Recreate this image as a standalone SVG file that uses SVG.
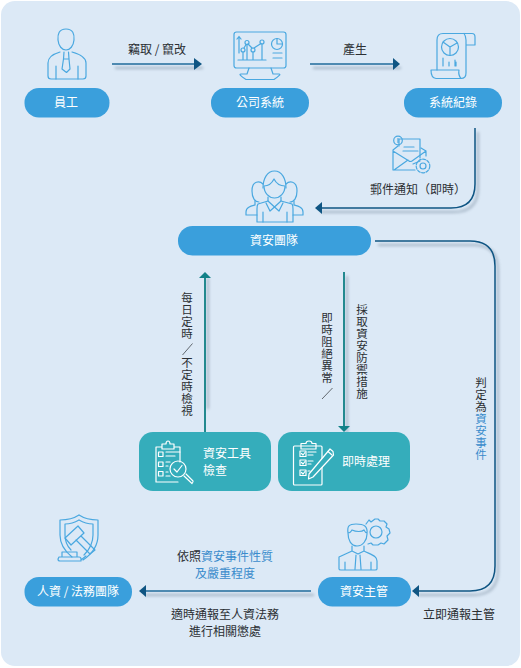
<svg xmlns="http://www.w3.org/2000/svg" width="521" height="668" viewBox="0 0 521 668">
<style>
text{font-family:"Noto Sans CJK TC","Noto Sans CJK SC",sans-serif;font-size:12px;fill:#2b2f33}
.w{fill:#fff;text-anchor:middle}
.t{fill:#fff}
.c{text-anchor:middle}
.v{writing-mode:vertical-rl;font-size:11.5px;letter-spacing:.5px}
.b{fill:#3a8ccc}
.pill{fill:#3a9fdc}
.teal{fill:#35adbb}
.ic{fill:none;stroke:#4aa8e0;stroke-width:1.2;stroke-linecap:round;stroke-linejoin:round}
.iw{fill:none;stroke:#fff;stroke-width:1.2;stroke-linecap:round;stroke-linejoin:round}
.ln{fill:none;stroke:#1f6a9a;stroke-width:1.6}
.nv{fill:none;stroke:#0f5583;stroke-width:1.5}
.tl{fill:none;stroke:#22898f;stroke-width:2}
.sh{fill:none;stroke:#4a5f75;stroke-width:2;opacity:.4;filter:url(#bl)}
</style>
<defs>
<filter id="bl" x="0" y="0" width="521" height="668" filterUnits="userSpaceOnUse"><feGaussianBlur stdDeviation="1.6"/></filter>
</defs>
<rect x="0" y="0" width="521" height="668" fill="#fff"/>
<rect x="1" y="1" width="519" height="665" rx="14" fill="#dce9f6"/>

<g id="connectors">
<g transform="translate(3,4)">
<path class="sh" d="M112 64H200"/><path class="sh" d="M310 64H398"/>
<path class="sh" d="M475 128V184Q475 208 451 208H318"/>
<path class="sh" d="M375 241H470Q495 241 495 266V566Q495 591 470 591H415"/>
<path class="sh" d="M205 405V274"/><path class="sh" d="M344 272V430"/>
<path class="sh" d="M311 591H142"/>
</g>
<path class="ln" d="M112 64H196"/><path d="M194 58L202 64L194 70Z" fill="#0f5583"/>
<path class="ln" d="M310 64H394"/><path d="M393 58L400 64L393 70Z" fill="#0f5583"/>
<path class="nv" d="M475 128V184Q475 208 451 208H320"/><path d="M315 208L322 202V214Z" fill="#0f5583"/>
<path class="nv" d="M375 241H470Q495 241 495 266V566Q495 591 470 591H418"/><path d="M412 591L419 585V597Z" fill="#0f5583"/>
<path class="tl" d="M205 432V276"/><path d="M199 278L205 272L211 278Z" fill="#128188"/>
<path class="tl" d="M344 272V428"/><path d="M338 426H350L344 432Z" fill="#128188"/>
<path class="ln" d="M311 591H146"/><path d="M139 591L146 585V597Z" fill="#0f5583"/>
</g>

<g id="employee">
<g class="ic">
<path d="M66 29C59 29 57.500 34 58 40C58.500 46 62 50 66 50C70 50 73.500 46 74 40C74.500 34 73 29 66 29Z"/>
<path d="M60 52C53 54 48 57 48 63V76Q48 79 51 79H83Q86 79 86 76V63C86 57 79 54 72 52"/>
<path d="M64 52L63.500 59L62 69L66.500 72.500L70 69L69 59L68.500 52M63.500 59H69"/>
<path d="M56 66V79M78 66V79"/>
</g>
<rect class="pill" x="24.500" y="88" width="85" height="29.500" rx="14.500"/>
<text class="w" x="66" y="107">員工</text>
</g>

<g id="system">
<g class="ic">
<rect x="234" y="32" width="52" height="36" rx="2.500"/>
<path d="M249 68L247 74H241Q237.500 74 246 79.500H274Q282 74 279 74H273L271 68"/>
<path d="M239 53V37M237 39L239 36.500L241 39"/>
<circle cx="243" cy="50" r="2"/><circle cx="247" cy="42.500" r="2"/><circle cx="253" cy="50" r="2"/><circle cx="262" cy="42" r="2"/>
<path d="M244 48L246 44.500M248 44L252 48M254 48L261 43.500M243 52V60M253 52V60M247 45V60M262 44V60M238 60H266"/>
<circle cx="277" cy="44" r="5.500"/><path d="M277 38.500V44H282M273 53H282M273 58H282"/>
</g>
<rect class="pill" x="211" y="88" width="98" height="29.500" rx="14.500"/>
<text class="w" x="260" y="107">公司系統</text>
</g>

<g id="records">
<g class="ic">
<path d="M437 70V40C437 36 439 33.500 443 33.500H472Q475 33.500 475 37V45H466M464 33.500Q466 36 466 40V73Q466 78.500 461 78.500H439"/>
<path d="M431 70H459Q458 75 461 78.500H436Q431 78 431 70Z"/>
<circle cx="450" cy="47" r="8.500"/><path d="M450 47V55.500M450 47L443 42M450 47L457 43"/>
<path d="M443 58V66M449 62V66M455 60V66M456 62V66"/>
</g>
<rect class="pill" x="404" y="88" width="98" height="29.500" rx="14.500"/>
<text class="w" x="453" y="107">系統紀錄</text>
</g>

<g id="mail-notice">
<g class="ic">
<path d="M393 150V170H415M393 150L398 146M421 148L426 151V156M394 170L408 160M393 151L409 161Q410 162 412 161L426 151"/>
<path d="M399 146V139H420V158M404 147H414M403 151H418M413 164L420 161"/>
<circle cx="398" cy="140.500" r="4.300"/><path d="M398 138.500V142.500"/>
<circle cx="423" cy="166" r="3"/><circle cx="423" cy="166" r="6.800" stroke-dasharray="3 1.500"/>
</g>
<text x="370" y="194">郵件通知（即時）</text>
</g>

<g id="security-team">
<g class="ic">
<path d="M263 188C263 179 267 171 274.500 171C282 171 286 179 286 188"/>
<path d="M264 186C264 193 269 198 274.500 198C280 198 285 193 285 186C280 186 276 183 274 179C272 183 269 186 264 186Z"/>
<path d="M263 184C260 181 252 180 252 191C252 198 255 202 259 202"/>
<path d="M286 184C289 181 297 180 297 191C297 198 294 202 290 202"/>
<path d="M255 201V205C251 206 246 207 246 212V215H257M294 201V205C298 206 303 207 303 212V215H293"/>
<path d="M268 197V201L258 204Q257 205 257 209V222H293V209Q293 205 292 204L281 201V197"/>
<path d="M268 201L274.500 207L270 211L266 203M281 201L274.500 207L279 211L283 203M263 212V222M287 212V222"/>
</g>
<rect class="pill" x="178" y="226" width="193" height="29.500" rx="14.500"/>
<text class="w" x="274" y="245">資安團隊</text>
</g>

<text class="c" x="157" y="54">竊取 / 竄改</text>
<text class="c" x="355" y="54">產生</text>

<text class="v" x="187" y="292">每日定時</text>
<path d="M182.500 355L192.500 343.500" stroke="#2b2f33" stroke-width=".7"/>
<text class="v" x="187" y="356.500">不定時檢視</text>
<text class="v" x="327" y="312">即時阻絕異常</text>
<path d="M322 399L332.500 388" stroke="#2b2f33" stroke-width=".7"/>
<text class="v" x="362" y="303.500">採取資安防禦措施</text>
<text class="v" x="481" y="377">判定為<tspan class="b">資安事件</tspan></text>

<g id="tool-check">
<rect class="teal" x="139" y="432" width="132" height="59" rx="14"/>
<g class="iw">
<path d="M162 447H156V482H178M180 462V447H174M162 444H166Q166 441 168 441Q170 441 170 444H174V449H162Z"/>
<rect x="158.500" y="452" width="4.500" height="4.500"/><rect x="158.500" y="462" width="4.500" height="4.500"/><rect x="158.500" y="471.500" width="4.500" height="4.500"/>
<path d="M166 452H180M166 456H175M166 462H170M166 466H168M166 472H168M166 476H170"/>
<circle cx="178" cy="469" r="8"/><path d="M174 469L177 472L182 465.500M184 476L192 483.500Q193.500 481.500 193 481L186 474"/>
</g>
<text class="t" x="203" y="458">資安工具</text>
<text class="t" x="203" y="475">檢查</text>
</g>

<g id="immediate">
<rect class="teal" x="278" y="432" width="132" height="59" rx="14"/>
<g class="iw">
<rect x="293.500" y="446" width="28.500" height="39" rx="1"/>
<path d="M301 446V443.500H306Q306 441 309 441Q312 441 312 443.500H316V449H301Z"/>
<rect x="300" y="451" width="6" height="5.500"/><rect x="300" y="460" width="6" height="5.500"/><rect x="300" y="470" width="6" height="5.500"/>
<path d="M301.500 453.500L303 455L305 452.500M301.500 462.500L303 464L305 461.500M301.500 472.500L303 474L305 471.500M308 452H316M308 455H313M308 461H313M308 464H311M308 471H310"/>
<path d="M309 474L330 449L333 451.500L333.500 455L313 477L308.500 479Z" style="fill:#35adbb"/>
<path d="M328 451.500L332 455"/>
</g>
<text class="t" x="342" y="466">即時處理</text>
</g>

<g id="security-manager">
<g class="ic">
<path d="M348 533C347 526 349 524 356 524C364 524 368 526 367 534C367 540 363 546 357 546C351 546 348 540 348 533ZM348 533C351 533 351 531 352 530C356 532 362 532 364 530C365 532 366 533 367 533"/>
<path d="M352 546V551L339 557Q339 560 339 569Q339 570 341 570H375Q377 570 377 569V561C377 556 372 555 364 551V546M352 551L358 554L364 551M356 555L355 569M360 555L361 569M345 562V570M371 562V570"/>
<circle cx="376" cy="532" r="6"/>
<path d="M366 524L369 520L371 522L375 519L378 519L380 521L384 521L387 524L386 527L389 529L390 533L387 536L388 540L384 544L381 543L378 545L373 545L371 543L368 544"/>
</g>
<rect class="pill" x="318" y="577" width="93" height="29.500" rx="14.500"/>
<text class="w" x="364" y="596">資安主管</text>
</g>

<g id="hr-legal">
<g class="ic">
<path d="M79 515C73 519 67 520 60 520V535C60 545 67 553 72 557M79 515C85 519 91 520 98 520V535C98 545 92 554 83 560"/>
<path d="M79 520C74 523 70 524 65 524V535C65 541 67 546 71 550M79 520C84 523 88 524 93 524V535C93 542 90 549 84 555"/>
<path d="M65 538L78 526L84 533L71 545ZM76 540L90 554L95 550L81 536"/>
<path d="M62 557V552H77V557M59 557H79Q81 557 81 559V561H60Q58 561 58 559ZM81 560L86 556"/>
</g>
<rect class="pill" x="24.500" y="577" width="107.500" height="29.500" rx="14.500"/>
<text class="w" x="78" y="596">人資 / 法務團隊</text>
</g>

<text class="c" x="225" y="561">依照<tspan class="b">資安事件性質</tspan></text>
<text class="c b" x="225" y="578">及嚴重程度</text>
<text class="c" x="225" y="619">適時通報至人資法務</text>
<text class="c" x="225" y="636">進行相關懲處</text>
<text class="c" x="459" y="619">立即通報主管</text>
</svg>
